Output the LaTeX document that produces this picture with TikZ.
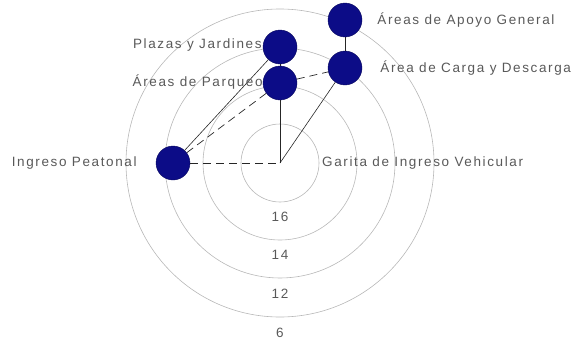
\documentclass[tikz,border=0pt]{standalone}
\usepackage{fontspec}
\setmainfont[LetterSpace=12]{Liberation Sans}
\usepackage{xcolor}
\usepackage{tikz}
\usetikzlibrary{positioning}
\definecolor{navydot}{RGB}{12,12,135}
\tikzset{
  zone/.style={draw=black!28, line width=0.6pt},
  area/.style={circle, fill=navydot, draw=navydot!70!black, minimum size=34pt, inner sep=0pt},
  lbl/.style={text=black!65, font=\fontsize{13.5}{15}\selectfont, inner sep=0pt},
  link/.style={black!85, line width=0.6pt},
  dlink/.style={black!85, line width=0.7pt, dash pattern=on 8pt off 5pt},
}
\begin{document}
\begin{tikzpicture}[x=1pt,y=-1pt]
  \useasboundingbox (0,0) rectangle (579,343);
  % rings
  \coordinate (ctr) at (280,163);
  \draw[zone] (ctr) circle[radius=39pt];
  \draw[zone] (ctr) circle[radius=77pt];
  \draw[zone] (ctr) circle[radius=115pt];
  \draw[zone] (ctr) circle[radius=154pt];
  \node[lbl] (r16) at (280,217) {16};
  \node[lbl] (r14) at (280,255) {14};
  \node[lbl] (r12) at (280,294) {12};
  \node[lbl] (r6) at (280,333) {6};
  % areas
  \node[area] (plaza) at (280,47) {};
  \node[area] (parq) at (280,83) {};
  \node[area] (apoyo) at (345,20) {};
  \node[area] (carga) at (345,68) {};
  \node[area] (ingreso) at (173,163) {};
  % links
  \draw[link] (parq) -- (plaza);
  \draw[link] (parq) -- (ctr);
  \draw[link] (apoyo) -- (carga);
  \draw[link] (carga) -- (ctr);
  \draw[link] (ingreso) -- (plaza);
  \draw[dlink] (ingreso) -- (parq);
  \draw[dlink] (parq) -- (carga);
  \draw[dlink] (ingreso) -- (ctr);
  % names
  \node[lbl, left=1pt of plaza, yshift=2pt] (lplaza) {Plazas y Jardines};
  \node[lbl, left=0pt of parq, yshift=1pt] (lparq) {Áreas de Parqueo};
  \node[lbl, right=15pt of apoyo] (lapoyo) {Áreas de Apoyo General};
  \node[lbl, right=18pt of carga] (lcarga) {Área de Carga y Descarga};
  \node[lbl, left=19pt of ingreso] (lingreso) {Ingreso Peatonal};
  \node[lbl, right=42pt of ctr] (lgarita) {Garita de Ingreso Vehicular};
\end{tikzpicture}
\end{document}
